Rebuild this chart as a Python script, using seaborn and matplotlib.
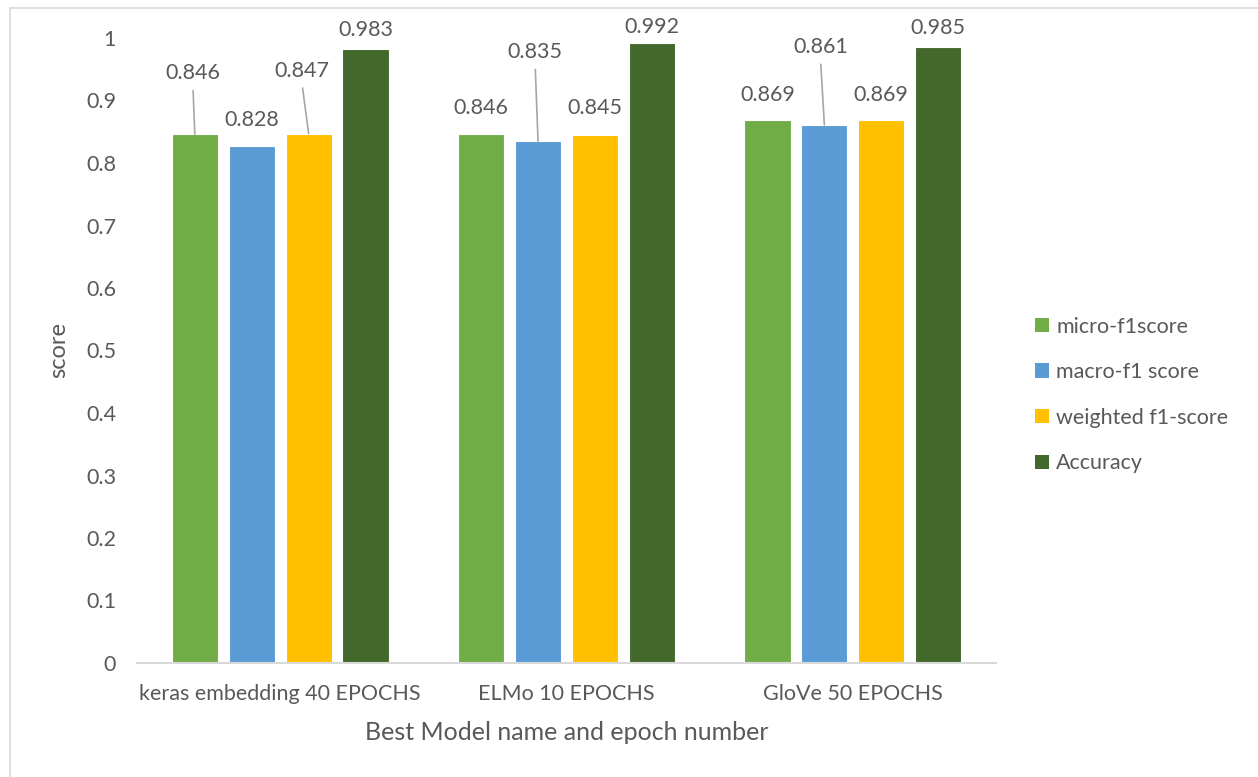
import numpy as np
import pandas as pd
import matplotlib
matplotlib.use("Agg")
import matplotlib.pyplot as plt
import seaborn as sns

# Scores for each model / metric
models = ["keras embedding 40 EPOCHS", "ELMo 10 EPOCHS", "GloVe 50 EPOCHS"]
metrics = ["micro-f1score", "macro-f1 score", "weighted f1-score", "Accuracy"]
micro_f1 = [0.846, 0.846, 0.869]
macro_f1 = [0.828, 0.835, 0.861]
weighted_f1 = [0.847, 0.845, 0.869]
accuracy = [0.983, 0.992, 0.985]
colors = ["#70AD47", "#5B9BD5", "#FFC000", "#43682B"]
yticks = [0, 0.1, 0.2, 0.3, 0.4, 0.5, 0.6, 0.7, 0.8, 0.9, 1]
ytick_labels = ["0", "0.1", "0.2", "0.3", "0.4", "0.5", "0.6", "0.7", "0.8", "0.9", "1"]

df = pd.DataFrame({
    "model": models * 4,
    "metric": np.repeat(metrics, len(models)),
    "score": micro_f1 + macro_f1 + weighted_f1 + accuracy,
})

sns.set_theme(style="white")
plt.rcParams["font.family"] = ["Lato", "DejaVu Sans"]
TXT = "#595959"

fig = plt.figure(figsize=(12.58, 7.77), dpi=100)
ax = fig.add_axes([137 / 1258, 1 - 663 / 777, (996 - 137) / 1258, (663 - 38) / 777])

sns.barplot(data=df, x="model", y="score", hue="metric", order=models,
            hue_order=metrics, palette=colors, saturation=1, width=0.795, gap=0.19,
            edgecolor="white", linewidth=0.8, legend=False, ax=ax)

ax.set_ylim(0, 1)
ax.set_xlim(-0.5, 2.5)
ax.set_yticks(yticks)
ax.set_yticklabels(ytick_labels)
ax.tick_params(axis="y", length=0, pad=15, labelsize=15.5, labelcolor=TXT)
ax.tick_params(axis="x", length=0, pad=15, labelsize=15.5, labelcolor=TXT)
for side in ["top", "right", "left"]:
    ax.spines[side].set_visible(False)
ax.spines["bottom"].set_color("#D9D9D9")
ax.spines["bottom"].set_linewidth(1.5)
ax.set_xlabel("Best Model name and epoch number", fontsize=18, color=TXT, labelpad=12)
ax.set_ylabel("score", fontsize=17, color=TXT, labelpad=12)

# Value labels: (dx, dy) offsets in pixels from bar top, leader line flag
label_offsets = {
    (0, 0): (-2, 61, True), (0, 1): (0, 26, False), (0, 2): (-7, 63, True), (0, 3): (0, 19, False),
    (1, 0): (0, 26, False), (1, 1): (-3, 89, True), (1, 2): (0, 27, False), (1, 3): (0, 16, False),
    (2, 0): (0, 25, False), (2, 1): (-4, 78, True), (2, 2): (0, 25, False), (2, 3): (0, 19, False),
}
for j, container in enumerate(ax.containers):
    for i, bar in enumerate(container):
        h = bar.get_height()
        xc = bar.get_x() + bar.get_width() / 2
        dx, dy, leader = label_offsets[(i, j)]
        kw = dict(textcoords="offset pixels", ha="center", va="center",
                  fontsize=15.5, color=TXT, annotation_clip=False)
        if leader:
            kw["arrowprops"] = dict(arrowstyle="-", color="#A6A6A6", lw=1.2,
                                    relpos=(0.5, 0.0), shrinkA=3, shrinkB=0)
        ax.annotate(f"{h:.3f}", xy=(xc, h), xytext=(dx, dy), **kw)

# Legend with square markers
handles = [plt.Rectangle((0, 0), 1, 1, facecolor=c, edgecolor="none") for c in colors]
fig.legend(handles, metrics, loc="center left", bbox_to_anchor=(1035 / 1258, 1 - 395 / 777),
           frameon=False, fontsize=15.5, labelcolor=TXT, handlelength=0.65, handleheight=0.65,
           handletextpad=0.33, labelspacing=1.19, borderpad=0, borderaxespad=0)

# Chart area outline
fig.add_artist(plt.Line2D([10 / 1258, 10 / 1258], [0, 1 - 8 / 777], transform=fig.transFigure,
                          color="#D9D9D9", lw=1.2))
fig.add_artist(plt.Line2D([10 / 1258, 1], [1 - 8 / 777, 1 - 8 / 777], transform=fig.transFigure,
                          color="#D9D9D9", lw=1.2))

fig.savefig("out.png", dpi=100, facecolor="white")
